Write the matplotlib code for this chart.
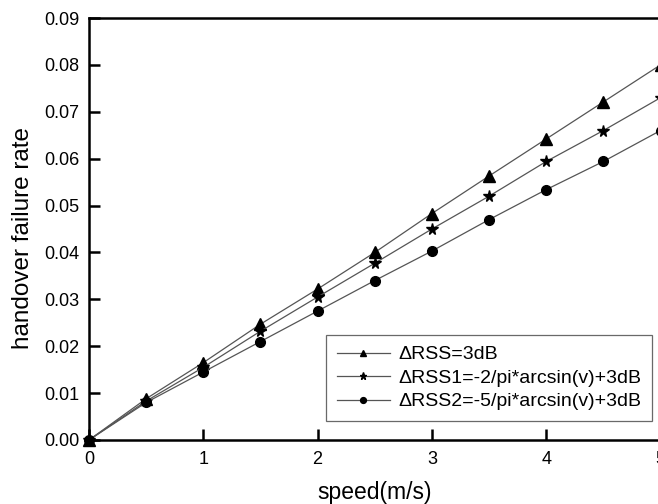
import matplotlib
matplotlib.use("Agg")
import matplotlib.pyplot as plt
from matplotlib.ticker import FormatStrFormatter

plt.rcParams['font.family'] = ['Liberation Sans', 'DejaVu Sans']

speed = [0, 0.5, 1, 1.5, 2, 2.5, 3, 3.5, 4, 4.5, 5]
rss = [0, 0.0088, 0.0165, 0.0247, 0.0322, 0.0400, 0.0483, 0.0563, 0.0642, 0.0721, 0.0800]
rss1 = [0, 0.0083, 0.0155, 0.0232, 0.0305, 0.0377, 0.0450, 0.0520, 0.0594, 0.0660, 0.0730]
rss2 = [0, 0.0080, 0.0145, 0.0210, 0.0275, 0.0340, 0.0403, 0.0470, 0.0534, 0.0594, 0.0660]
labels = ['ΔRSS=3dB', 'ΔRSS1=-2/pi*arcsin(v)+3dB', 'ΔRSS2=-5/pi*arcsin(v)+3dB']
xticks = [0, 1, 2, 3, 4, 5]
yticks = [0.00, 0.01, 0.02, 0.03, 0.04, 0.05, 0.06, 0.07, 0.08, 0.09]

fig = plt.figure(figsize=(6.58, 5.04), dpi=100)
ax = fig.add_axes([89/658, 64/504, 571.5/658, 422/504])

lc = '#555555'
ax.plot(speed, rss, color=lc, lw=0.9, marker='^', ms=8, mfc='black', mec='black', label=labels[0], clip_on=False, zorder=3)
ax.plot(speed, rss1, color=lc, lw=0.9, marker='*', ms=8.5, mfc='black', mec='black', label=labels[1], clip_on=False, zorder=3)
ax.plot(speed, rss2, color=lc, lw=0.9, marker='o', ms=7, mfc='black', mec='black', label=labels[2], clip_on=False, zorder=3)

ax.set_xlim(0, 5)
ax.set_ylim(0, 0.09)
ax.set_xticks(xticks)
ax.set_yticks(yticks)
ax.yaxis.set_major_formatter(FormatStrFormatter('%.2f'))
ax.tick_params(direction='in', length=8, width=1.8, labelsize=13, colors='black')
ax.tick_params(axis='y', pad=7)
ax.tick_params(axis='x', pad=8)
for s in ax.spines.values():
    s.set_linewidth(1.8)

ax.set_xlabel('speed(m/s)', fontsize=16.5)
ax.set_ylabel('handover failure rate', fontsize=17.5)
ax.xaxis.set_label_coords(0.5, -0.098)
ax.yaxis.set_label_coords(-0.097, 0.479)

leg = ax.legend(loc='lower right', bbox_to_anchor=(652/658, 83/504), bbox_transform=fig.transFigure,
                fontsize=14, frameon=True, fancybox=False, edgecolor='#444444',
                handlelength=2.7, borderpad=0.55, labelspacing=0.3, handletextpad=0.45,
                markerscale=0.6, borderaxespad=0)
leg.get_frame().set_linewidth(0.9)

fig.savefig('out.png', dpi=100)
